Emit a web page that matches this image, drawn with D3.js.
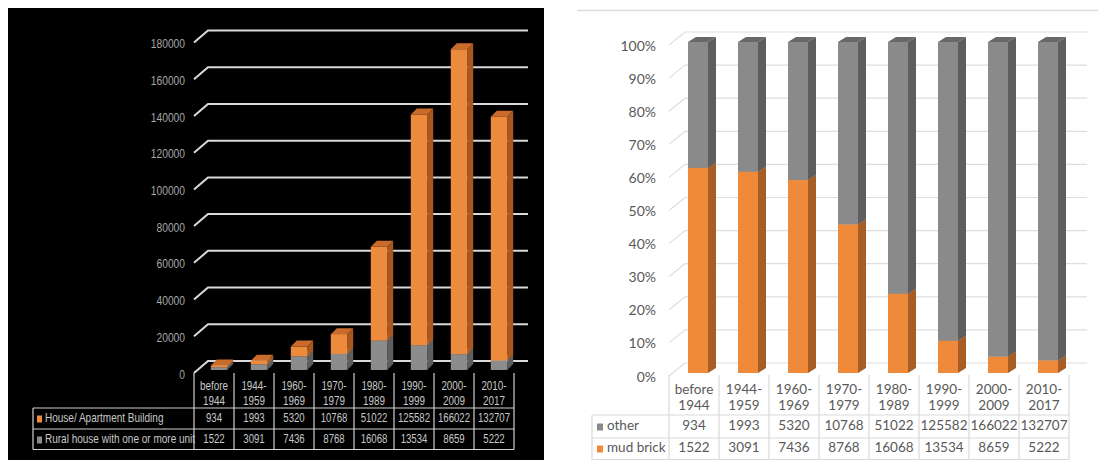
<!DOCTYPE html>
<html>
<head>
<meta charset="utf-8">
<script src="https://cdn.jsdelivr.net/npm/d3@7"></script>
<style>
  html, body { margin: 0; padding: 0; background: #fff; }
  svg { display: block; }
</style>
</head>
<body>
<div id="chart"></div>
<script>
const categories = ['before 1944', '1944-1959', '1960-1969', '1970-1979', '1980-1989', '1990-1999', '2000-2009', '2010-2017']
const headerLines = [['before', '1944'], ['1944-', '1959'], ['1960-', '1969'], ['1970-', '1979'], ['1980-', '1989'], ['1990-', '1999'], ['2000-', '2009'], ['2010-', '2017']]

// left chart series
const houseApartment = [934, 1993, 5320, 10768, 51022, 125582, 166022, 132707]
const ruralHouse = [1522, 3091, 7436, 8768, 16068, 13534, 8659, 5222]
const leftTicks = [0, 20000, 40000, 60000, 80000, 100000, 120000, 140000, 160000, 180000]

// right chart series
const other = [934, 1993, 5320, 10768, 51022, 125582, 166022, 132707]
const mudBrick = [1522, 3091, 7436, 8768, 16068, 13534, 8659, 5222]
const rightTicks = [0, 0.1, 0.2, 0.3, 0.4, 0.5, 0.6, 0.7, 0.8, 0.9, 1]

const W = 1098, H = 460
const svg = d3.select('#chart').append('svg')
  .attr('width', W).attr('height', H)

// draws a 3d box: front rect, right side, top face
function box(g, x, y0, y1, w, dx, dy, c) {
  g.append('path')
    .attr('d', `M${x + w},${y1}L${x + w + dx},${y1 + dy}L${x + w + dx},${y0 + dy}L${x + w},${y0}Z`)
    .attr('fill', c.side)
  g.append('path')
    .attr('d', `M${x},${y1}L${x + dx},${y1 + dy}L${x + w + dx},${y1 + dy}L${x + w},${y1}Z`)
    .attr('fill', c.top)
  g.append('rect')
    .attr('x', x).attr('y', y1)
    .attr('width', w).attr('height', Math.max(0, y0 - y1))
    .attr('fill', c.front)
}

// ---------------- left chart ----------------
const L = svg.append('g')
const leftFont = '"Liberation Sans", Arial, sans-serif'

// narrow text for the left chart (no condensed font installed)
function narrowText(g, x, y, txt, anchor, size, fill, sx) {
  return g.append('text')
    .attr('transform', `translate(${x},${y}) scale(${sx},1)`)
    .attr('text-anchor', anchor).attr('dominant-baseline', 'middle')
    .attr('font-family', leftFont).attr('font-size', size)
    .attr('fill', fill)
    .text(txt)
}

L.append('rect').attr('x', 8).attr('y', 8).attr('width', 536).attr('height', 452).attr('fill', '#000')

const xL = d3.scaleBand().domain(categories).range([194, 514])
const yL = d3.scaleLinear().domain([0, 180000]).range([370, 39.5])

const orangeL = { front: '#ee8a3c', side: '#a8581f', top: '#c96b2b' }
const grayL = { front: '#8c8c8c', side: '#5e5e5e', top: '#a3a3a3' }

// gridlines (back wall + floor diagonal)
leftTicks.forEach(t => {
  const y = yL(t)
  L.append('path')
    .attr('d', `M194,${y + 3}L208,${y - 9}L528,${y - 9}`)
    .attr('fill', 'none').attr('stroke', '#dadada').attr('stroke-width', 2)
  narrowText(L, 185, y + 5, t, 'end', 13.5, '#a6a6a6', 0.76)
})

const stackL = d3.stack().keys(['rural', 'house'])(categories.map((c, i) => ({ cat: c, rural: ruralHouse[i], house: houseApartment[i] })))
const bwL = xL.bandwidth()
categories.forEach((c, i) => {
  const g = L.append('g')
  const x = xL(c) + bwL * 0.42
  stackL.forEach(s => {
    const d = s[i]
    box(g, x, yL(d[0]), yL(d[1]), bwL * 0.41, 6, -6, s.key === 'rural' ? grayL : orangeL)
  })
})

// data table
const tl = L.append('g').attr('stroke', '#d0d0d0').attr('stroke-width', 1.2)
categories.concat(['end']).forEach((c, i) => {
  const x = 194 + i * bwL
  tl.append('line').attr('x1', x).attr('x2', x).attr('y1', 373).attr('y2', 449.5)
})
tl.append('line').attr('x1', 33).attr('x2', 33).attr('y1', 408).attr('y2', 449.5)
;[408, 429, 449.5].forEach(y => tl.append('line').attr('x1', 33).attr('x2', 514).attr('y1', y).attr('y2', y))

const cellColor = '#c8c8c8'
categories.forEach((c, i) => {
  const cx = xL(c) + bwL / 2
  headerLines[i].forEach((t, k) => narrowText(L, cx, 387 + k * 15, t, 'middle', 13, cellColor, 0.76))
  narrowText(L, cx, 419, houseApartment[i], 'middle', 13, cellColor, 0.74)
  narrowText(L, cx, 440, ruralHouse[i], 'middle', 13, cellColor, 0.74)
})

const legendL = [
  { name: 'House/ Apartment Building', color: orangeL.front, y: 419 },
  { name: 'Rural house with one or more unit', color: grayL.front, y: 440 }
]
legendL.forEach(d => {
  L.append('rect').attr('x', 37).attr('y', d.y - 3.5).attr('width', 5).attr('height', 7).attr('fill', d.color)
  narrowText(L, 45, d.y, d.name, 'start', 13, cellColor, 0.77)
})

// ---------------- right chart ----------------
const R = svg.append('g')
const rightFont = 'Lato, "Open Sans", sans-serif'

R.append('line').attr('x1', 577).attr('x2', 1098).attr('y1', 10.5).attr('y2', 10.5)
  .attr('stroke', '#dcdcdc').attr('stroke-width', 1.5)

const xR = d3.scaleBand().domain(categories).range([669, 1069])
const yR = d3.scaleLinear().domain([0, 1]).range([373, 42])

const orangeR = { front: '#ef8a3b', side: '#a85d25', top: '#c46d2c' }
const grayR = { front: '#8a8a8a', side: '#5e5e5e', top: '#686868' }

rightTicks.forEach(t => {
  const y = yR(t)
  R.append('path')
    .attr('d', `M669,${y + 3}L685,${y - 10}L1087,${y - 10}`)
    .attr('fill', 'none').attr('stroke', '#dedede').attr('stroke-width', 1.2)
  R.append('text')
    .attr('x', 656).attr('y', y + 5)
    .attr('text-anchor', 'end').attr('dominant-baseline', 'middle')
    .attr('font-family', rightFont).attr('font-size', 14)
    .attr('fill', '#595959')
    .text(d3.format('.0%')(t))
})

const stackR = d3.stack().keys(['mud', 'other']).offset(d3.stackOffsetExpand)(categories.map((c, i) => ({ cat: c, mud: mudBrick[i], other: other[i] })))
const bwR = xR.bandwidth()
categories.forEach((c, i) => {
  const g = R.append('g')
  const x = xR(c) + bwR * 0.38
  stackR.forEach(s => {
    const d = s[i]
    box(g, x, yR(d[0]), yR(d[1]), bwR * 0.4, 8, -5, s.key === 'mud' ? orangeR : grayR)
  })
})

const tr = R.append('g').attr('stroke', '#d9d9d9').attr('stroke-width', 1.2)
categories.concat(['end']).forEach((c, i) => {
  const x = 669 + i * bwR
  tr.append('line').attr('x1', x).attr('x2', x).attr('y1', 375).attr('y2', 460)
})
tr.append('line').attr('x1', 592).attr('x2', 592).attr('y1', 415).attr('y2', 460)
;[415, 438, 459.5].forEach(y => tr.append('line').attr('x1', 592).attr('x2', 1069).attr('y1', y).attr('y2', y))

categories.forEach((c, i) => {
  const cx = xR(c) + bwR / 2
  headerLines[i].forEach((t, k) => {
    R.append('text').attr('x', cx).attr('y', 391 + k * 16)
      .attr('text-anchor', 'middle').attr('dominant-baseline', 'middle')
      .attr('font-family', rightFont).attr('font-size', 13.5).attr('fill', '#595959')
      .text(t)
  })
  R.append('text').attr('x', cx).attr('y', 427)
    .attr('text-anchor', 'middle').attr('dominant-baseline', 'middle')
    .attr('font-family', rightFont).attr('font-size', 13.5).attr('fill', '#595959')
    .text(other[i])
  R.append('text').attr('x', cx).attr('y', 449)
    .attr('text-anchor', 'middle').attr('dominant-baseline', 'middle')
    .attr('font-family', rightFont).attr('font-size', 13.5).attr('fill', '#595959')
    .text(mudBrick[i])
})

const legendR = [
  { name: 'other', color: grayR.front, y: 427 },
  { name: 'mud brick', color: orangeR.front, y: 449 }
]
legendR.forEach(d => {
  R.append('rect').attr('x', 597).attr('y', d.y - 3.5).attr('width', 6).attr('height', 7).attr('fill', d.color)
  R.append('text').attr('x', 607).attr('y', d.y)
    .attr('dominant-baseline', 'middle')
    .attr('font-family', rightFont).attr('font-size', 13.5).attr('fill', '#595959')
    .text(d.name)
})
</script>
</body>
</html>
